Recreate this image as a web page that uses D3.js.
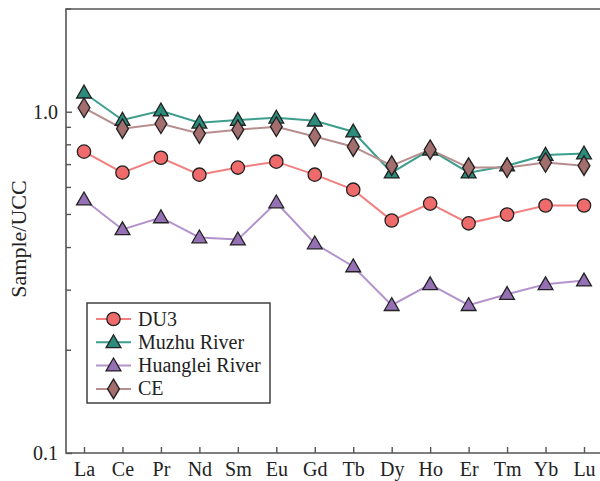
<!DOCTYPE html>
<html>
<head>
<meta charset="utf-8">
<script src="https://cdn.jsdelivr.net/npm/d3@7"></script>
<style>
  html, body { margin: 0; padding: 0; background: #fff; }
  svg { display: block; }
</style>
</head>
<body>
<svg id="chart" width="600" height="481"></svg>
<script>
// REE elements along the x axis
const elements = ["La","Ce","Pr","Nd","Sm","Eu","Gd","Tb","Dy","Ho","Er","Tm","Yb","Lu"];

// UCC-normalised concentrations
const du3       = [0.764,0.663,0.733,0.654,0.686,0.714,0.654,0.591,0.480,0.538,0.471,0.500,0.531,0.531];
const muzhu     = [1.137,0.946,1.007,0.928,0.946,0.960,0.941,0.874,0.663,0.774,0.663,0.695,0.747,0.754];
const huanglei  = [0.553,0.452,0.490,0.428,0.422,0.542,0.411,0.352,0.271,0.312,0.271,0.292,0.312,0.320];
const ce        = [1.027,0.892,0.922,0.863,0.886,0.904,0.846,0.790,0.695,0.774,0.686,0.686,0.710,0.695];

const yTickLabels = [0.1, 1.0];
const yMinorTicks = [0.2,0.3,0.4,0.5,0.6,0.7,0.8,0.9,2];

const series = [
  { name: "DU3",            values: du3,      shape: "circle",   fill: "#ef6b6b", line: "#f27f7f" },
  { name: "Muzhu River",    values: muzhu,    shape: "triangle", fill: "#2b8c7c", line: "#3c9e8c" },
  { name: "Huanglei River", values: huanglei, shape: "triangle", fill: "#9670b4", line: "#b393cc" },
  { name: "CE",             values: ce,       shape: "diamond",  fill: "#a26e6e", line: "#b68e8e" }
];

const svg = d3.select("#chart");
const frame = { left: 66, top: 9, right: 603, bottom: 453 };
const font = "'Liberation Serif','Times New Roman',serif";
const axisColor = "#555";

const x = d3.scalePoint().domain(elements).range([84, 584]);
const y = d3.scaleLog().domain([0.1, 2]).range([frame.bottom, frame.top]);

// plot frame (open on the right where the page ends)
svg.append("path")
  .attr("d", `M${frame.right},${frame.top}H${frame.left}V${frame.bottom}H${frame.right}`)
  .attr("fill", "none").attr("stroke", axisColor).attr("stroke-width", 1.6);

// y axis: inward ticks
const yAxis = d3.axisLeft(y).tickValues(yTickLabels).tickFormat(d3.format(".1f")).tickSizeInner(-6).tickSizeOuter(0).tickPadding(8);
const gy = svg.append("g").attr("transform", `translate(${frame.left},0)`).call(yAxis);
gy.select(".domain").remove();
gy.selectAll("line").attr("stroke", axisColor).attr("stroke-width", 1.4);
gy.selectAll("text").attr("font-family", font).attr("font-size", 20).attr("fill", "#222");
svg.append("g").selectAll("line").data(yMinorTicks).join("line")
  .attr("x1", frame.left).attr("x2", frame.left + 5)
  .attr("y1", d => y(d)).attr("y2", d => y(d))
  .attr("stroke", axisColor).attr("stroke-width", 1.4);

// x axis: inward ticks
const xAxis = d3.axisBottom(x).tickSizeInner(-6).tickSizeOuter(0).tickPadding(9);
const gx = svg.append("g").attr("transform", `translate(0,${frame.bottom})`).call(xAxis);
gx.select(".domain").remove();
gx.selectAll("line").attr("stroke", axisColor).attr("stroke-width", 1.4);
gx.selectAll("text").attr("font-family", font).attr("font-size", 20).attr("fill", "#222");

// y axis title
svg.append("text")
  .attr("transform", `translate(26,${(frame.top + frame.bottom) / 2 + 8}) rotate(-90)`)
  .attr("text-anchor", "middle")
  .attr("font-family", font).attr("font-size", 22).attr("fill", "#222")
  .text("Sample/UCC");

const symbolFor = s => s === "circle" ? d3.symbolCircle : s === "triangle" ? d3.symbolTriangle : d3.symbolDiamond;
const sizeFor = s => s === "circle" ? 140 : s === "triangle" ? 95 : 110;

function drawMarker(g, shape, fill, cx, cy) {
  const yOff = shape === "triangle" ? 1 : 0;
  g.append("path")
    .attr("d", d3.symbol().type(symbolFor(shape)).size(sizeFor(shape))())
    .attr("transform", `translate(${cx},${cy + yOff})` + (shape === "diamond" ? " scale(1.05,1)" : ""))
    .attr("fill", fill).attr("stroke", "#222").attr("stroke-width", 1.3);
}

const line = d3.line().x((d, i) => x(elements[i])).y(d => y(d));

// draw in order so Muzhu/CE overlap like the original
const drawOrder = [2, 0, 1, 3];
drawOrder.forEach(k => {
  const s = series[k];
  svg.append("path").datum(s.values).attr("d", line)
    .attr("fill", "none").attr("stroke", s.line).attr("stroke-width", 2);
});
drawOrder.forEach(k => {
  const s = series[k];
  const g = svg.append("g");
  s.values.forEach((v, i) => drawMarker(g, s.shape, s.fill, x(elements[i]), y(v)));
});

// legend
const lg = svg.append("g");
lg.append("rect").attr("x", 87).attr("y", 303).attr("width", 183).attr("height", 100)
  .attr("fill", "#fff").attr("stroke", "#333").attr("stroke-width", 1.4);
series.forEach((s, i) => {
  const ly = 319 + i * 23.3;
  lg.append("line").attr("x1", 96).attr("x2", 131).attr("y1", ly).attr("y2", ly)
    .attr("stroke", s.line).attr("stroke-width", 2);
  drawMarker(lg, s.shape, s.fill, 113.5, ly);
  lg.append("text").attr("x", 138).attr("y", ly + 6.5)
    .attr("font-family", font).attr("font-size", 20).attr("fill", "#222")
    .text(s.name);
});
</script>
</body>
</html>
